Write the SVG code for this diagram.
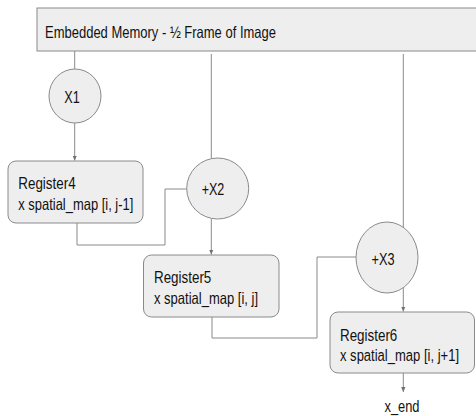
<svg xmlns="http://www.w3.org/2000/svg" width="476" height="416" viewBox="0 0 476 416">
<style>
.box{fill:#eeeeee;stroke:#8a8a8a;stroke-width:1}
.ln{fill:none;stroke:#8a8a8a;stroke-width:1}
text{font-family:"Liberation Sans",Arial,sans-serif;font-size:16.5px;fill:#111111}
.c{text-anchor:middle}
</style>
<defs>
<marker id="ah" markerWidth="6" markerHeight="6" refX="5" refY="3" orient="auto" markerUnits="userSpaceOnUse">
<path d="M0,0.8 L5,3 L0,5.2 Z" fill="#707070"/>
</marker>
</defs>
<rect width="476" height="416" fill="#ffffff"/>
<g id="connectors">
<path class="ln" d="M74.7,51 V69"/>
<path class="ln" d="M211.3,54 V158.2"/>
<path class="ln" d="M403.3,54 V227"/>
<path class="ln" d="M74.7,123 V160.5" marker-end="url(#ah)"/>
<path class="ln" d="M77,223 V245 H165 V189 H186.7"/>
<path class="ln" d="M211.3,219 V254.5" marker-end="url(#ah)"/>
<path class="ln" d="M212,317 V338 H317 V257 H356"/>
<path class="ln" d="M403.3,288 V311.5" marker-end="url(#ah)"/>
<path class="ln" d="M403.3,373 V392" marker-end="url(#ah)"/>
</g>
<g id="memory">
<rect class="box" x="37" y="8" width="445" height="43"/>
<text x="45" y="37.5" textLength="231" lengthAdjust="spacingAndGlyphs">Embedded Memory - ½ Frame of Image</text>
</g>
<g id="x1">
<ellipse class="box" cx="75" cy="96" rx="26" ry="27"/>
<text class="c" x="72" y="102.5" textLength="15.5" lengthAdjust="spacingAndGlyphs">X1</text>
</g>
<g id="register4">
<rect class="box" x="8" y="161" width="135" height="62" rx="8"/>
<text x="18.3" y="189.3" textLength="57.3" lengthAdjust="spacingAndGlyphs">Register4</text>
<text x="18.3" y="209.5" textLength="115" lengthAdjust="spacingAndGlyphs">x spatial_map [i, j-1]</text>
</g>
<g id="x2">
<ellipse class="box" cx="217.7" cy="188.5" rx="31" ry="30.5"/>
<text class="c" x="213" y="194.7" textLength="22.7" lengthAdjust="spacingAndGlyphs">+X2</text>
</g>
<g id="register5">
<rect class="box" x="143.5" y="255" width="135.5" height="62" rx="8"/>
<text x="154" y="283" textLength="57.3" lengthAdjust="spacingAndGlyphs">Register5</text>
<text x="154" y="303.5" textLength="104" lengthAdjust="spacingAndGlyphs">x spatial_map [i, j]</text>
</g>
<g id="x3">
<ellipse class="box" cx="387" cy="257.5" rx="31" ry="35.5"/>
<text class="c" x="383" y="264.5" textLength="23" lengthAdjust="spacingAndGlyphs">+X3</text>
</g>
<g id="register6">
<rect class="box" x="330" y="312" width="144.5" height="61" rx="8"/>
<text x="340" y="340.5" textLength="57.3" lengthAdjust="spacingAndGlyphs">Register6</text>
<text transform="translate(340,360.7) scale(0.789,1)" x="0" y="0">x spatial_map [i, j+1]</text>
</g>
<g id="x_end">
<text class="c" x="402" y="412" textLength="35" lengthAdjust="spacingAndGlyphs">x_end</text>
</g>
</svg>
